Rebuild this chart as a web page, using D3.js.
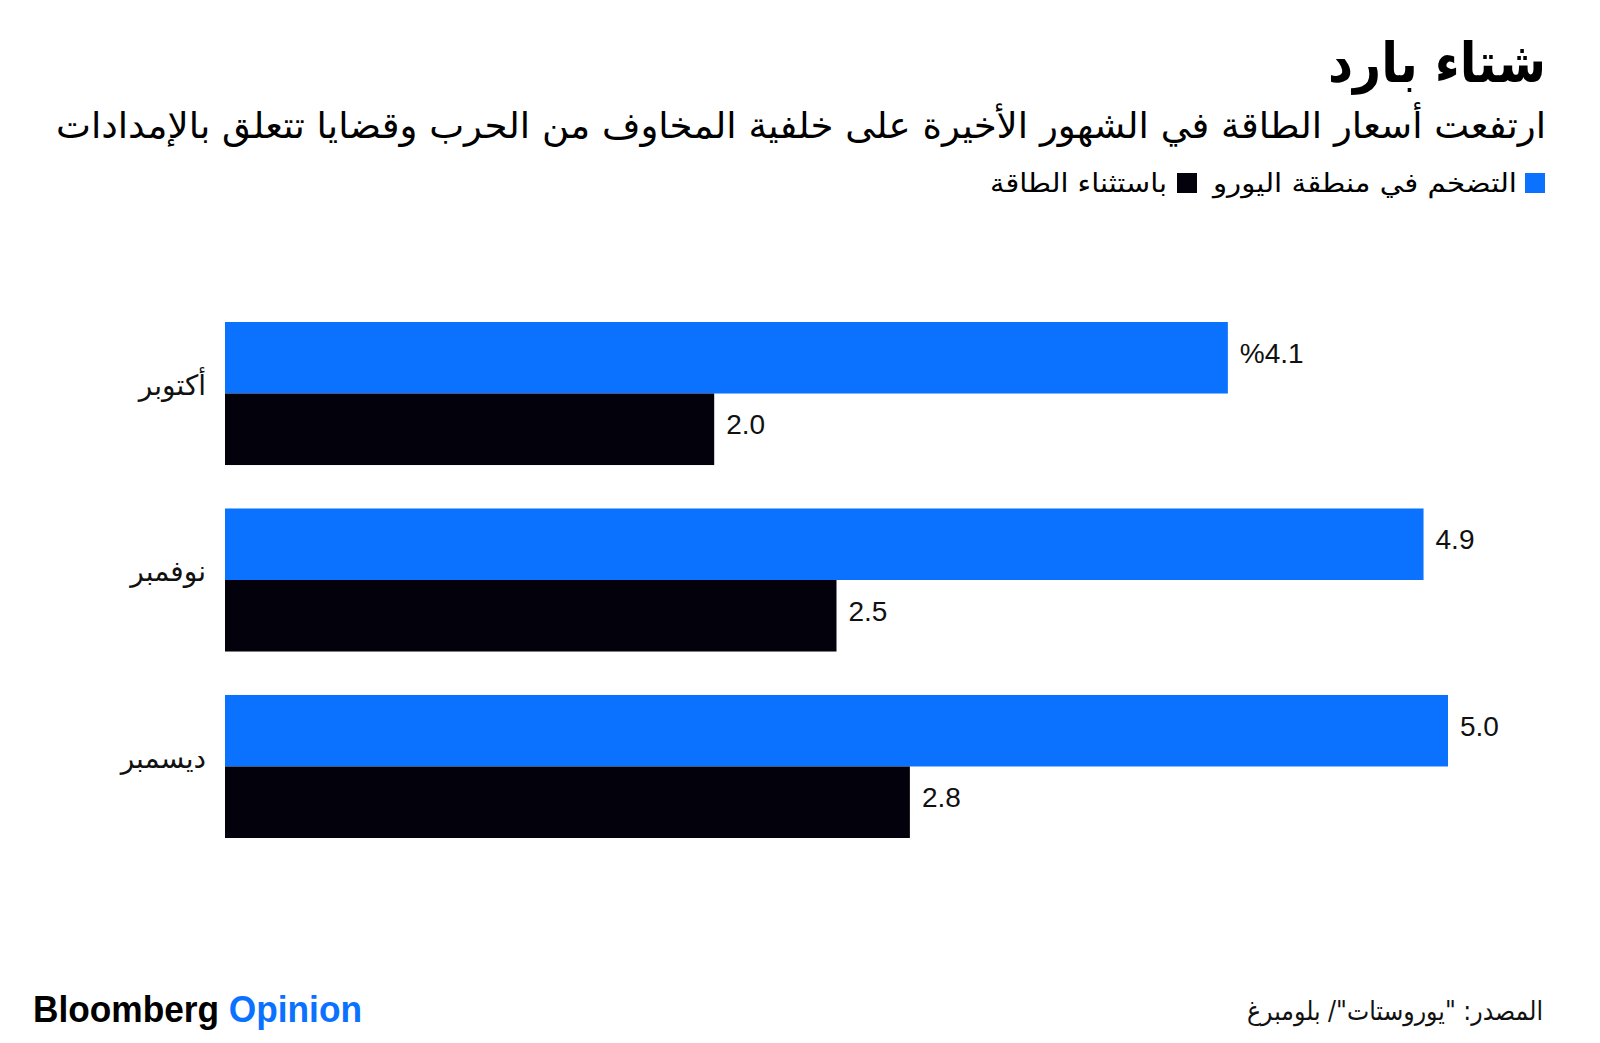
<!DOCTYPE html>
<html>
<head>
<meta charset="utf-8">
<script src="https://cdn.jsdelivr.net/npm/d3@7"></script>
<style>
  body { margin: 0; background: #fff; }
  svg { display: block; }
  .ar { font-family: "DejaVu Sans", "Noto Sans", sans-serif; }
  .num { font-family: "Liberation Sans", Arial, sans-serif; }
</style>
</head>
<body>
<script>
(function(){

    // chart data
    var months = ["أكتوبر", "نوفمبر", "ديسمبر"];
    var seriesKeys = ["euro", "exEnergy"];
    var seriesNames = ["التضخم في منطقة اليورو", "باستثناء الطاقة"];
    var euroInflation = [4.1, 4.9, 5.0];
    var exEnergy = [2.0, 2.5, 2.8];
    var valueText = [["%4.1", "2.0"], ["4.9", "2.5"], ["5.0", "2.8"]];

    var titleText = "شتاء بارد";
    var subtitleText = "ارتفعت أسعار الطاقة في الشهور الأخيرة على خلفية المخاوف من الحرب وقضايا تتعلق بالإمدادات";
    var sourceText = "المصدر: \"يوروستات\"/ بلومبرغ";

    var blue = "#0a72ff",
        black = "#03020c";

    var width = 1600,
        height = 1043;

    var svg = d3.select("body")
        .append("svg")
        .attr("width", width)
        .attr("height", height);

    // title block
    svg.append("text")
        .attr("class", "ar")
        .attr("x", 1546)
        .attr("y", 82)
        .attr("text-anchor", "end")
        .attr("textLength", 218)
        .attr("lengthAdjust", "spacingAndGlyphs")
        .style("font-size", "55px")
        .style("font-weight", "bold")
        .text(titleText);

    svg.append("text")
        .attr("class", "ar")
        .attr("x", 1546)
        .attr("y", 138)
        .attr("text-anchor", "end")
        .attr("textLength", 1490)
        .attr("lengthAdjust", "spacingAndGlyphs")
        .style("font-size", "36px")
        .text(subtitleText);

    // legend
    var legendPos = [{sq: 1525, tx: 1517, w: 304}, {sq: 1177, tx: 1167, w: 177}];
    var legendColors = [blue, black];
    var legend = svg.selectAll(".legend")
        .data(seriesKeys)
        .enter()
        .append("g")
        .attr("class", "legend");

    legend.append("rect")
        .attr("x", function(d, i){ return legendPos[i].sq; })
        .attr("y", 173)
        .attr("width", 20)
        .attr("height", 20)
        .attr("fill", function(d, i){ return legendColors[i]; });

    legend.append("text")
        .attr("class", "ar")
        .attr("x", function(d, i){ return legendPos[i].tx; })
        .attr("y", 192)
        .attr("text-anchor", "end")
        .attr("textLength", function(d, i){ return legendPos[i].w; })
        .attr("lengthAdjust", "spacingAndGlyphs")
        .style("font-size", "26px")
        .text(function(d, i){ return seriesNames[i]; });

    // scales
    var x = d3.scaleLinear()
        .domain([0, 5])
        .range([225, 1448]);

    var y = d3.scaleBand()
        .domain(months)
        .range([322, 838])
        .paddingInner(0.233)
        .paddingOuter(0);

    var ySub = d3.scaleBand()
        .domain(seriesKeys)
        .range([0, y.bandwidth()])
        .padding(0);

    var color = d3.scaleOrdinal()
        .domain(seriesKeys)
        .range([blue, black]);

    var rows = months.map(function(m, i){
        return {month: m, values: [
            {key: "euro", value: euroInflation[i], label: valueText[i][0]},
            {key: "exEnergy", value: exEnergy[i], label: valueText[i][1]}
        ]};
    });

    var groups = svg.selectAll(".group")
        .data(rows)
        .enter()
        .append("g")
        .attr("class", "group")
        .attr("transform", function(d){ return "translate(0," + y(d.month) + ")"; });

    groups.selectAll("rect")
        .data(function(d){ return d.values; })
        .enter()
        .append("rect")
        .attr("x", x(0))
        .attr("y", function(d){ return ySub(d.key); })
        .attr("width", function(d){ return x(d.value) - x(0); })
        .attr("height", ySub.bandwidth())
        .attr("fill", function(d){ return color(d.key); });

    groups.selectAll(".val")
        .data(function(d){ return d.values; })
        .enter()
        .append("text")
        .attr("class", "val num")
        .attr("x", function(d){ return x(d.value) + 12; })
        .attr("y", function(d){ return ySub(d.key) + ySub.bandwidth() / 2 + 5; })
        .attr("direction", "ltr")
        .style("font-size", "28px")
        .style("fill", "#111")
        .text(function(d){ return d.label; });

    // category axis
    var yAxis = d3.axisLeft(y)
        .tickSize(0)
        .tickPadding(19);

    var axisG = svg.append("g")
        .attr("transform", "translate(" + x(0) + ",0)")
        .call(yAxis);

    axisG.select(".domain").remove();
    axisG.selectAll("text")
        .attr("class", "ar")
        .attr("dy", "0.05em")
        .style("font-size", "28px")
        .style("fill", "#111");

    // footer
    var brand = svg.append("text")
        .attr("class", "num")
        .attr("x", 33)
        .attr("y", 1022)
        .attr("textLength", 329)
        .attr("lengthAdjust", "spacingAndGlyphs")
        .style("font-size", "36px")
        .style("font-weight", "bold");
    brand.append("tspan").attr("fill", "#000").text("Bloomberg ");
    brand.append("tspan").attr("fill", blue).text("Opinion");

    svg.append("text")
        .attr("class", "ar")
        .attr("x", 1543)
        .attr("y", 1020)
        .attr("text-anchor", "end")
        .attr("textLength", 296)
        .attr("lengthAdjust", "spacingAndGlyphs")
        .style("font-size", "26px")
        .style("fill", "#111")
        .text(sourceText);

})();
</script>
</body>
</html>
